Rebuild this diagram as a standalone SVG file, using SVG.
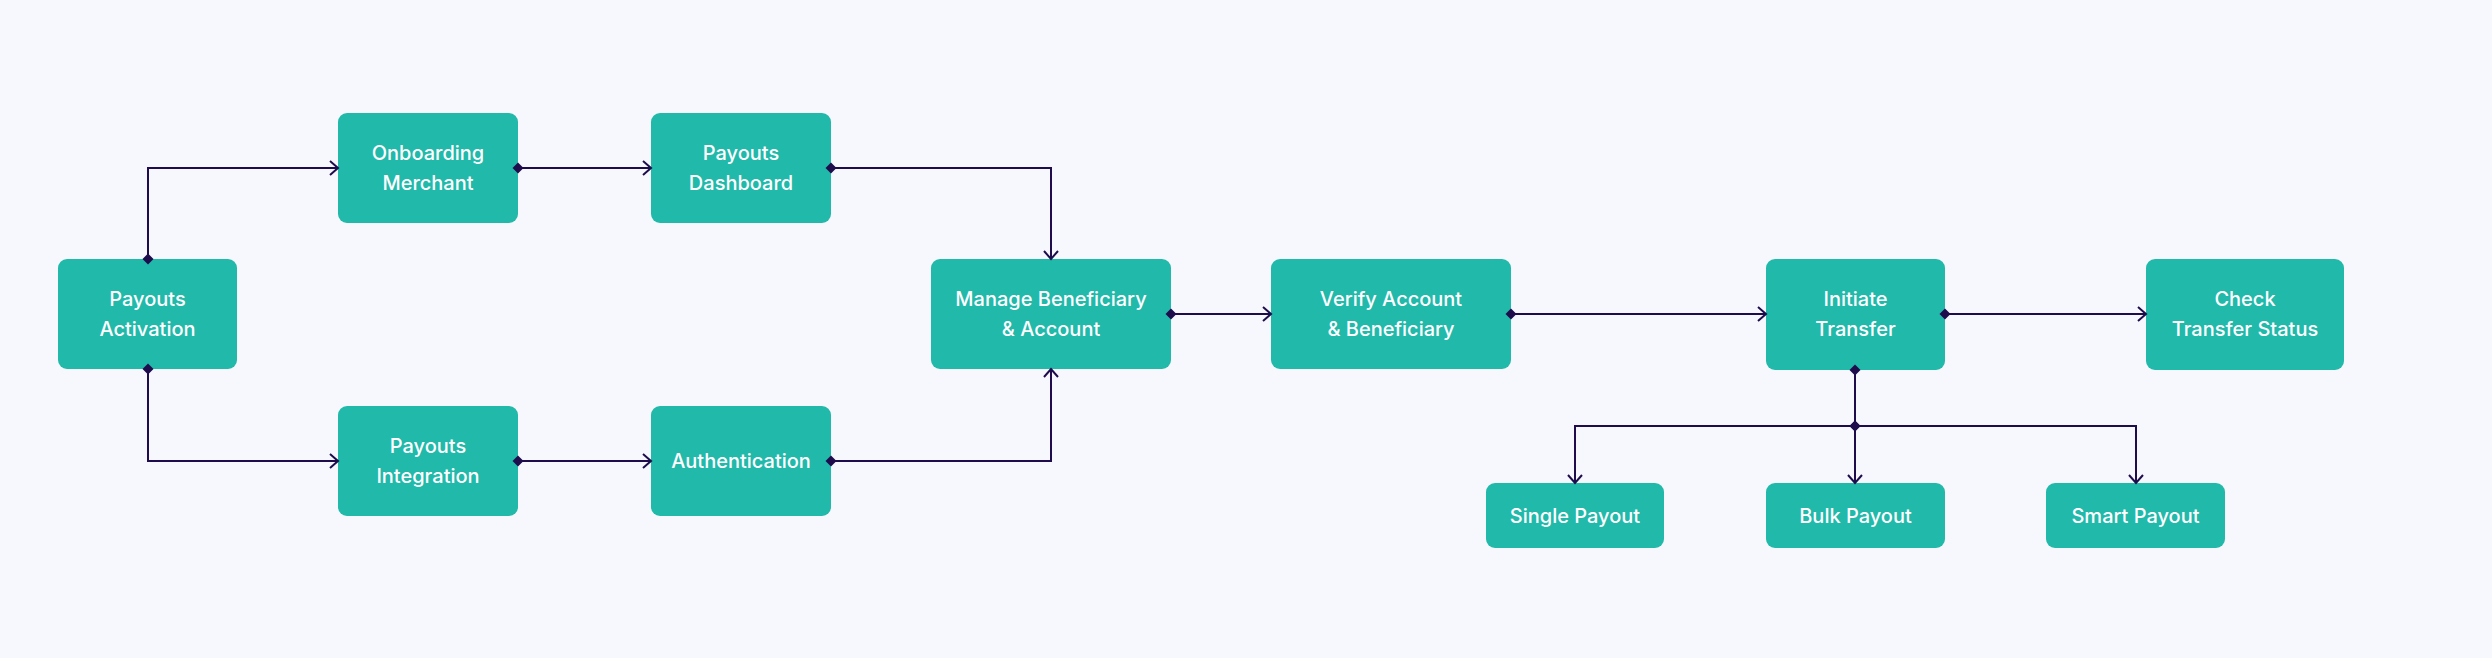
<svg xmlns="http://www.w3.org/2000/svg" width="2492" height="658" viewBox="0 0 2492 658">
<style>
.box{fill:#20b9aa}
.t{fill:#ffffff;font-family:Inter,"Liberation Sans",sans-serif;font-size:20px;font-weight:500;text-anchor:middle}
.c{fill:none;stroke:#1f0c4d;stroke-width:2;marker-start:url(#dia);marker-end:url(#arr)}
</style>
<defs>
<marker id="dia" markerUnits="userSpaceOnUse" viewBox="-6 -6 12 12" markerWidth="12" markerHeight="12" refX="0" refY="0" orient="auto" overflow="visible">
<path d="M-5.5,0 L0,-5.5 L5.5,0 L0,5.5 Z" fill="#1f0c4d"/>
</marker>
<marker id="arr" markerUnits="userSpaceOnUse" viewBox="-10 -8 12 16" markerWidth="12" markerHeight="16" refX="0" refY="0" orient="auto" overflow="visible">
<path d="M-8,-7 L0,0 L-8,7" fill="none" stroke="#1f0c4d" stroke-width="2"/>
</marker>
</defs>
<rect width="2492" height="658" fill="#f7f8fd"/>
<g id="payouts-activation"><rect class="box" x="58" y="259" width="179" height="110" rx="9"/><text class="t" x="147.5" y="306">Payouts</text><text class="t" x="147.5" y="336">Activation</text></g>
<g id="onboarding-merchant"><rect class="box" x="338" y="113" width="180" height="110" rx="9"/><text class="t" x="428" y="160">Onboarding</text><text class="t" x="428" y="190">Merchant</text></g>
<g id="payouts-dashboard"><rect class="box" x="651" y="113" width="180" height="110" rx="9"/><text class="t" x="741" y="160">Payouts</text><text class="t" x="741" y="190">Dashboard</text></g>
<g id="payouts-integration"><rect class="box" x="338" y="406" width="180" height="110" rx="9"/><text class="t" x="428" y="453">Payouts</text><text class="t" x="428" y="483">Integration</text></g>
<g id="authentication"><rect class="box" x="651" y="406" width="180" height="110" rx="9"/><text class="t" x="741" y="468">Authentication</text></g>
<g id="manage-beneficiary"><rect class="box" x="931" y="259" width="240" height="110" rx="9"/><text class="t" x="1051" y="306">Manage Beneficiary</text><text class="t" x="1051" y="336">&amp; Account</text></g>
<g id="verify-account"><rect class="box" x="1271" y="259" width="240" height="110" rx="9"/><text class="t" x="1391" y="306">Verify Account</text><text class="t" x="1391" y="336">&amp; Beneficiary</text></g>
<g id="initiate-transfer"><rect class="box" x="1766" y="259" width="179" height="111" rx="9"/><text class="t" x="1855.5" y="306">Initiate</text><text class="t" x="1855.5" y="336">Transfer</text></g>
<g id="check-transfer-status"><rect class="box" x="2146" y="259" width="198" height="111" rx="9"/><text class="t" x="2245" y="306">Check</text><text class="t" x="2245" y="336">Transfer Status</text></g>
<g id="single-payout"><rect class="box" x="1486" y="483" width="178" height="65" rx="9"/><text class="t" x="1575" y="523">Single Payout</text></g>
<g id="bulk-payout"><rect class="box" x="1766" y="483" width="179" height="65" rx="9"/><text class="t" x="1855.5" y="523">Bulk Payout</text></g>
<g id="smart-payout"><rect class="box" x="2046" y="483" width="179" height="65" rx="9"/><text class="t" x="2135.5" y="523">Smart Payout</text></g>
<g id="connectors">
<path class="c" d="M148,259 V168 H338"/>
<path class="c" d="M148,369 V461 H338"/>
<path class="c" d="M518,168 H651"/>
<path class="c" d="M518,461 H651"/>
<path class="c" d="M831,168 H1051 V259"/>
<path class="c" d="M831,461 H1051 V369"/>
<path class="c" d="M1171,314 H1271"/>
<path class="c" d="M1511,314 H1766"/>
<path class="c" d="M1945,314 H2146"/>
<path class="c" d="M1855,370 V483"/>
<path class="c" d="M1855,426 H1575 V483"/>
<path class="c" d="M1855,426 H2136 V483"/>
</g>
</svg>
